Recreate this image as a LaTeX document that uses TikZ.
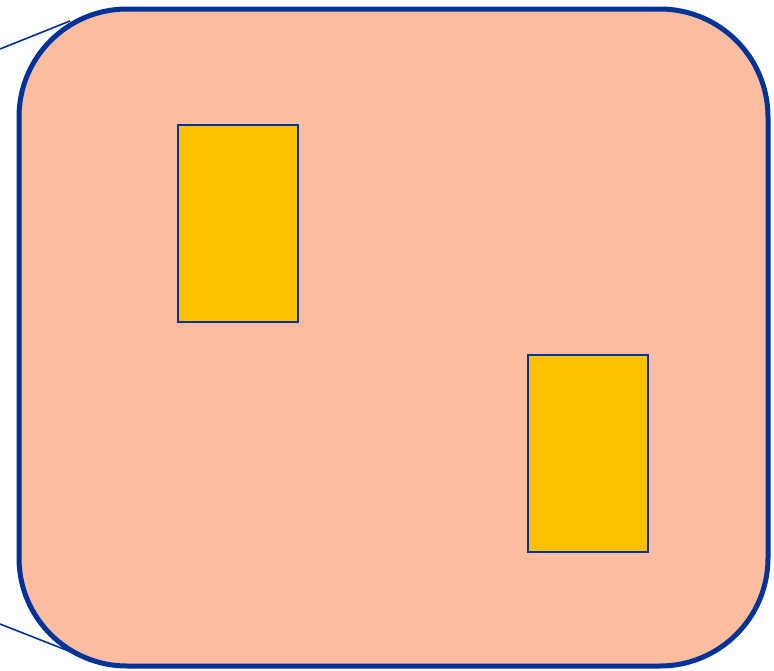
\documentclass[tikz,border=0pt]{standalone}
\definecolor{edgeblue}{RGB}{0,51,153}
\definecolor{salmon}{RGB}{251,188,160}
\definecolor{gold}{RGB}{255,192,0}
\tikzset{
  outer/.style={draw=edgeblue, line width=5pt, fill=salmon, rounded corners=108pt},
  innerbox/.style={draw=edgeblue, line width=1.6pt, fill=gold, inner sep=0pt},
  lead/.style={draw=edgeblue, line width=1.6pt}
}
\begin{document}
\begin{tikzpicture}[x=1pt,y=-1pt]
\useasboundingbox (0,0) rectangle (774,670);
\coordinate (t0) at (0,49);
\coordinate (t1) at (70,21);
\coordinate (b0) at (0,624);
\coordinate (b1) at (89,659);
\draw[outer] (19,9) rectangle (768,666);
\draw[lead] (t0) -- (t1);
\draw[lead] (b0) -- (b1);
\node[innerbox, minimum width=120pt, minimum height=197pt] (r1) at (238,223.5) {};
\node[innerbox, minimum width=120pt, minimum height=197pt] (r2) at (588,453.5) {};
\end{tikzpicture}
\end{document}
